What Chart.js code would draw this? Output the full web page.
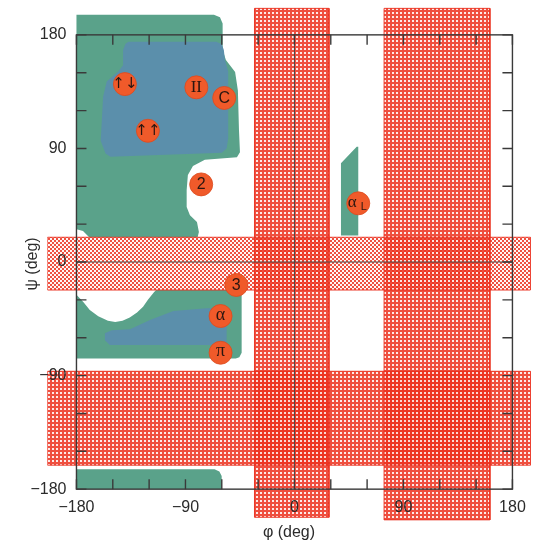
<!DOCTYPE html>
<html><head><meta charset="utf-8">
<script src="https://cdn.jsdelivr.net/npm/chart.js@4.4.1/dist/chart.umd.min.js"></script>
<style>html,body{margin:0;padding:0;background:#fff;}canvas{display:block;}</style>
</head><body>
<canvas id="c" width="534" height="544"></canvas>
<script>
// ---------------- data (phi, psi in degrees) ----------------
const tickValues = [-180,-150,-120,-90,-60,-30,0,30,60,90,120,150,180];
const labeledTicks = [-180,-90,0,90,180];
const tickLabels = ['\u2212180','\u221290','0','90','180'];

const greenUpper = [[-180,196],[-66.5,196],[-61.5,194],[-59.3,189],[-59.3,168],[-56.6,160],[-49,150.5],[-46.7,136],[-45.8,104.6],[-45,87],[-47.5,83],[-74,81],[-83.8,76],[-88,69],[-89,57],[-89,43.6],[-86.3,37],[-80.5,31.7],[-78.9,23.8],[-80.5,17.4],[-86.3,14.3],[-160.6,14.3],[-166.4,16.6],[-170.5,20.6],[-174.6,24.6],[-180,26]];
const blueUpper = [[-137,174.6],[-64.5,174.6],[-60,172.5],[-58.3,168],[-57.4,160],[-54.7,151],[-54.7,98],[-56,90],[-60,86.5],[-152,83.5],[-156,86],[-160,96],[-158,131],[-155,143],[-145.5,151],[-141.5,156],[-141.5,168],[-139.5,173]];
const greenLower = [[-180,-26],[-174,-32],[-169,-38],[-162,-43],[-154,-46.5],[-148,-47.5],[-142,-46.5],[-136,-44],[-130,-40],[-125,-35.5],[-121,-30],[-116,-24],[-110,-18],[-104,-15],[-45,-15],[-43.6,-22],[-43.6,-72],[-45.5,-75.5],[-48.5,-76.5],[-180,-76.5]];
const blueLower = [[-156.5,-56.5],[-151,-54],[-135.8,-53.3],[-119.3,-46],[-100,-38.8],[-72.5,-36.7],[-58,-36.3],[-56,-38],[-56,-65.8],[-152.4,-65.8],[-156.5,-62]];
const greenBottom = [[-180,-164.3],[-66,-164.3],[-62,-166],[-60.1,-169.5],[-60.1,-180],[-180,-180]];
const greenAlphaL = [[38.4,78.2],[51.4,91.4],[52.7,91.4],[52.7,21],[38.4,21]];

const bandPsiZero = [[-204,19.6],[195,19.6],[195,-22.2],[-204,-22.2]];
const bandPsiMinus = [[-204,-86.6],[195,-86.6],[195,-161],[-204,-161]];
const bandPhiZero = [[-33,201],[28.5,201],[28.5,-202.3],[-33,-202.3]];
const bandPhiPlus = [[74,201],[161.4,201],[161.4,-204.4],[74,-204.4]];

const circlePhi = [-140,-81,-58,-121,-77,52.7,-48,-61,-61];
const circlePsi = [141,138.4,130,104,61.5,46.5,-18.2,-42.8,-71.9];
const circleLabels = ['\u2191\u2193','II','C','\u2191\u2191','2','\u03b1L','3','\u03b1','\u03c0'];

// ---------------- styling ----------------
const GREEN = '#5aa28a', BLUE = '#5b8fab', ORANGE = '#f05a2a', RED = 'rgba(234,48,30,0.92)';
const canvas = document.getElementById('c');
const ctx0 = canvas.getContext('2d');
function makePattern(rows, on, off) {
  const t = document.createElement('canvas');
  t.width = rows[0].length; t.height = rows.length;
  const g = t.getContext('2d');
  rows.forEach((r, yy) => [...r].forEach((ch, xx) => {
    g.fillStyle = ch === '#' ? on : off; g.fillRect(xx, yy, 1, 1);
  }));
  return ctx0.createPattern(t, 'repeat');
}
const densePat = makePattern(['..##','..##','####','####'], 'rgba(236,50,32,0.86)', 'rgba(236,50,32,0.1)');
const lightPat = makePattern(['..##','..##','##..','##..'], 'rgba(236,50,32,0.85)', 'rgba(236,50,32,0.04)');

function poly(points, bg, border, bw) {
  const pts = points.concat([points[0]]).map(p => ({x: p[0], y: p[1]}));
  return {type: 'line', data: pts, fill: 'shape', backgroundColor: bg,
    borderColor: border || 'rgba(0,0,0,0)', borderWidth: bw || 0,
    pointRadius: 0, pointHoverRadius: 0, pointHitRadius: 0, tension: 0, spanGaps: true};
}

const datasets = [
  {type: 'line', data: circlePhi.map((v, i) => ({x: v, y: circlePsi[i]})), showLine: false,
   pointRadius: 11.5, pointHoverRadius: 11.5, pointBackgroundColor: ORANGE,
   pointBorderColor: '#dc4a1e', pointBorderWidth: 0.8},
  poly(bandPsiZero, lightPat, RED, 1),
  poly(bandPsiMinus, densePat, RED, 1),
  poly(bandPhiZero, densePat, RED, 1),
  poly(bandPhiPlus, densePat, RED, 1),
  poly(bandPsiZero, '#ffffff'),
  poly(bandPsiMinus, '#ffffff'),
  poly(bandPhiZero, '#ffffff'),
  poly(bandPhiPlus, '#ffffff'),
  poly(blueUpper, BLUE),
  poly(blueLower, BLUE),
  poly(greenUpper, GREEN),
  poly(greenLower, GREEN),
  poly(greenBottom, GREEN),
  poly(greenAlphaL, GREEN)
];

const overlay = {
  id: 'overlay',
  afterDatasetsDraw(chart) {
    const ctx = chart.ctx, x = chart.scales.x, y = chart.scales.y;
    const meta = chart.getDatasetMeta(0);
    ctx.save();
    ctx.fillStyle = '#2a1610';
    ctx.textAlign = 'center'; ctx.textBaseline = 'middle';
    meta.data.forEach((pt, i) => {
      const lab = circleLabels[i];
      const px = pt.x, py = pt.y;
      if (lab === '\u03b1L') {
        ctx.font = '17px "Liberation Serif"';
        ctx.fillText('\u03b1', px - 6, py - 1);
        ctx.font = '11px "Liberation Sans"';
        ctx.fillText('L', px + 5.5, py + 3.5);
      } else if (lab[0] === '\u2191') {
        ctx.font = '15px "DejaVu Sans"';
        ctx.fillText(lab, px, py);
      } else if (lab === 'II' || lab === '\u03b1' || lab === '\u03c0') {
        ctx.font = (lab === 'II' ? '17px' : '18px') + ' "Liberation Serif"';
        ctx.fillText(lab, px, py + (lab === 'II' ? 0.5 : -1));
      } else {
        ctx.font = '16px "Liberation Sans"';
        ctx.fillText(lab, px, py + 0.5);
      }
    });
    const L = x.getPixelForValue(-180), R = x.getPixelForValue(180);
    const T = y.getPixelForValue(180), B = y.getPixelForValue(-180);
    const x0 = x.getPixelForValue(0), y0 = y.getPixelForValue(0);
    ctx.strokeStyle = '#4a4a4a'; ctx.lineWidth = 1;
    ctx.beginPath();
    ctx.moveTo(x0, T); ctx.lineTo(x0, B);
    ctx.moveTo(L, y0); ctx.lineTo(R, y0);
    ctx.stroke();
    ctx.strokeStyle = '#3a3a3a'; ctx.lineWidth = 1.4;
    ctx.strokeRect(L, T, R - L, B - T);
    ctx.beginPath();
    const tl = 10;
    tickValues.forEach(v => {
      const px = x.getPixelForValue(v), py = y.getPixelForValue(v);
      ctx.moveTo(px, B); ctx.lineTo(px, B - tl);
      ctx.moveTo(px, T); ctx.lineTo(px, T + tl);
      ctx.moveTo(L, py); ctx.lineTo(L + tl, py);
      ctx.moveTo(R, py); ctx.lineTo(R - tl, py);
    });
    ctx.stroke();
    ctx.restore();
  }
};

const tickFont = {family: 'Liberation Sans', size: 16};
new Chart(canvas, {
  type: 'line',
  data: {datasets},
  plugins: [overlay],
  options: {
    responsive: false, animation: false, devicePixelRatio: 1, events: [],
    layout: {autoPadding: false, padding: {left: 0, right: 3.4, top: 7.1, bottom: 0}},
    plugins: {legend: {display: false}, tooltip: {enabled: false}},
    scales: {
      x: {type: 'linear', min: -204, max: 195,
        afterBuildTicks: s => { s.ticks = labeledTicks.map(v => ({value: v})); },
        afterFit: s => { s.height = 23.3; s.paddingLeft = 0; s.paddingRight = 0; s.paddingTop = 0; s.paddingBottom = 0; },
        grid: {display: false, drawTicks: false}, border: {display: false},
        ticks: {z: 1, autoSkip: false, maxRotation: 0, mirror: true, padding: 3.8, font: tickFont, color: '#2b2b2b',
          callback: v => { const k = labeledTicks.indexOf(v); return k < 0 ? '' : tickLabels[k]; }},
        title: {display: true, text: '\u03c6 (deg)', font: tickFont, color: '#2b2b2b', padding: {top: 0, bottom: 2}}},
      y: {type: 'linear', min: -205, max: 202,
        afterBuildTicks: s => { s.ticks = labeledTicks.map(v => ({value: v})); },
        afterFit: s => { s.width = 47.4; s.paddingLeft = 0; s.paddingRight = 0; s.paddingTop = 0; s.paddingBottom = 0; },
        grid: {display: false, drawTicks: false}, border: {display: false},
        ticks: {z: 1, autoSkip: false, mirror: true, crossAlign: 'far', padding: -17, font: tickFont, color: '#2b2b2b',
          callback: v => { const k = labeledTicks.indexOf(v); return k < 0 ? '' : tickLabels[k]; }},
        title: {display: true, text: '\u03c8 (deg)', font: tickFont, color: '#2b2b2b', padding: {top: 23, bottom: 0}}}
    }
  }
});
</script>
</body></html>
